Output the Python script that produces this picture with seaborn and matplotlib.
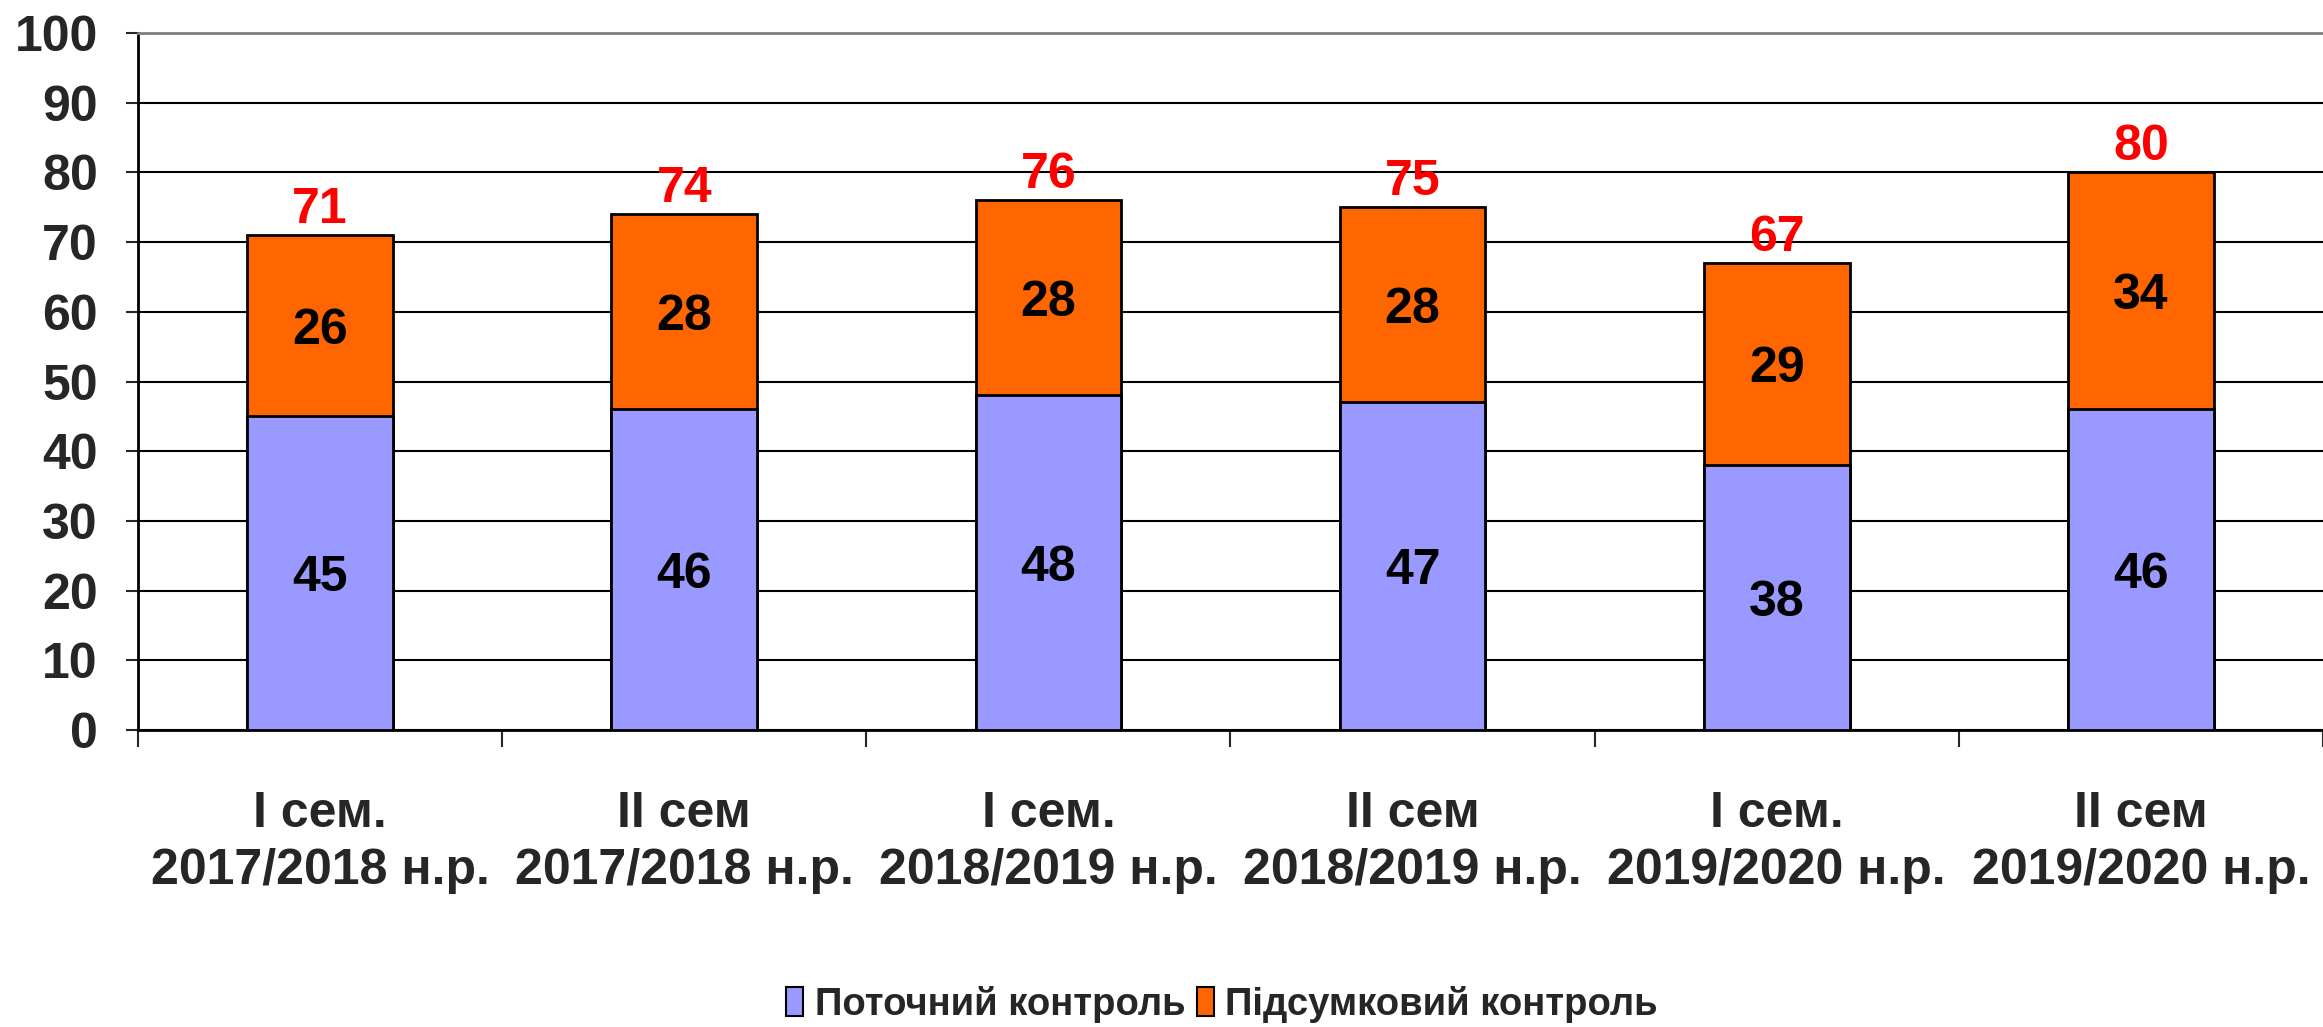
import numpy as np
import pandas as pd
import seaborn as sns
import matplotlib.pyplot as plt
from matplotlib.patches import Patch

categories = ["I сем.\n2017/2018 н.р.", "II сем\n2017/2018 н.р.",
              "I сем.\n2018/2019 н.р.", "II сем\n2018/2019 н.р.",
              "I сем.\n2019/2020 н.р.", "II сем\n2019/2020 н.р."]
current = [45, 46, 48, 47, 38, 46]
final = [26, 28, 28, 28, 29, 34]
totals = [71, 74, 76, 75, 67, 80]
series_names = ["Поточний контроль", "Підсумковий контроль"]
colors = ["#9999FF", "#FF6600"]

df = pd.DataFrame({"cat": categories, "current": current, "final": final, "total": totals})

sns.set_style("white")
plt.rcParams['font.family'] = ['Liberation Sans', 'DejaVu Sans']
plt.rcParams['font.weight'] = 'bold'

fig = plt.figure(figsize=(23.23, 10.27), dpi=100)
ax = fig.add_axes([0.0594, 0.289, 0.9406, 0.679])

# stacked: total (orange) first, then lower segment (blue) on top
sns.barplot(data=df, x="cat", y="total", color=colors[1], edgecolor="black",
            linewidth=2, width=0.4, saturation=1, ax=ax, zorder=3)
sns.barplot(data=df, x="cat", y="current", color=colors[0], edgecolor="black",
            linewidth=2, width=0.4, saturation=1, ax=ax, zorder=4)

for i in range(len(categories)):
    ax.text(i, current[i] / 2, str(current[i]), ha="center", va="center_baseline",
            fontsize=36, fontweight="bold", color="black", zorder=5)
    ax.text(i, current[i] + final[i] / 2, str(final[i]), ha="center", va="center_baseline",
            fontsize=36, fontweight="bold", color="black", zorder=5)
    ax.text(i, totals[i] + 0.3, str(totals[i]), ha="center", va="bottom",
            fontsize=36, fontweight="bold", color="red", zorder=5)

ax.set_ylim(0, 100)
ax.set_xlim(-0.5, len(categories) - 0.5)
ax.set_yticks(np.arange(0, 101, 10))
ax.yaxis.grid(True, color="black", linewidth=1.5, zorder=0)
ax.set_axisbelow(True)
ax.set_xlabel("")
ax.set_ylabel("")

ax.tick_params(axis="y", labelsize=36, length=9, width=1.5, direction="out", left=True, pad=20)
ax.tick_params(axis="x", which="major", labelsize=36, length=0, pad=44)
ax.set_xticks(np.arange(-0.5, len(categories), 1), minor=True)
ax.tick_params(axis="x", which="minor", length=12, width=1.5, direction="out", bottom=True)
for lbl in ax.get_xticklabels():
    lbl.set_linespacing(1.3)
    lbl.set_fontweight("bold")
for lbl in ax.get_yticklabels():
    lbl.set_fontweight("bold")

for side in ["left", "bottom"]:
    ax.spines[side].set_color("black")
    ax.spines[side].set_linewidth(2)
ax.spines["top"].set_color("#808080")
ax.spines["top"].set_linewidth(2)
ax.spines["right"].set_visible(False)

handles = [Patch(facecolor=c, edgecolor="black", linewidth=1.5) for c in colors]
fig.legend(handles, series_names, loc="center", bbox_to_anchor=(0.526, 0.022), ncol=2,
           frameon=False, handlelength=0.45, handleheight=0.8,
           handletextpad=0.3, columnspacing=0.3, prop={"weight": "bold", "size": 27.5})

fig.savefig("out.png", dpi=100)
